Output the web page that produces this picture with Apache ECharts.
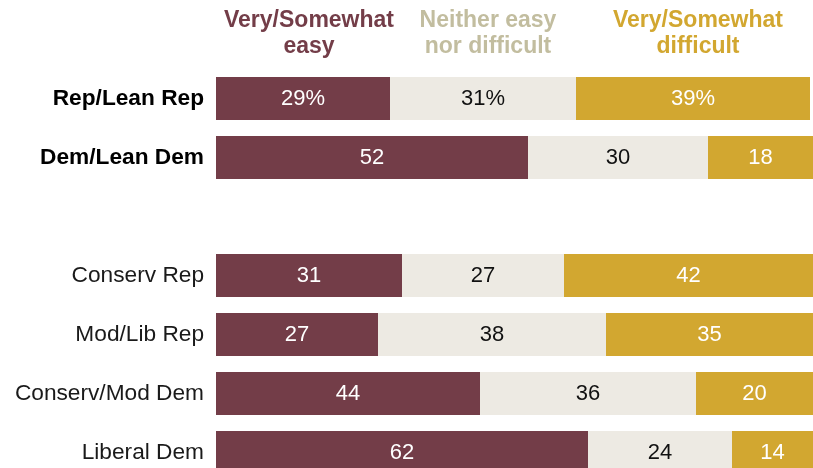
<!DOCTYPE html>
<html>
<head>
<meta charset="utf-8">
<style>
  html, body { margin: 0; padding: 0; background: #fff; }
  #chart { width: 813px; height: 468px; }
</style>
<script src="https://cdn.jsdelivr.net/npm/echarts@6/dist/echarts.min.js"></script>
</head>
<body>
<div id="chart"></div>
<script>
// Groups shown as rows (the empty string leaves a gap between party totals and ideology groups)
const categories = ['Rep/Lean Rep', 'Dem/Lean Dem', '', 'Conserv Rep', 'Mod/Lib Rep', 'Conserv/Mod Dem', 'Liberal Dem'];
const boldRows = ['Rep/Lean Rep', 'Dem/Lean Dem'];

// Share answering each way (%)
const easyValues      = [29, 52, null, 31, 27, 44, 62];
const neitherValues   = [31, 30, null, 27, 38, 36, 24];
const difficultValues = [39, 18, null, 42, 35, 20, 14];

// Column headers, one array entry per line
const headerLines = [
  ['Very/Somewhat', 'easy'],
  ['Neither easy', 'nor difficult'],
  ['Very/Somewhat', 'difficult']
];
const seriesNames = headerLines.map(l => l.join(' '));

const COLORS = {
  easy: '#733D48',
  neither: '#EDEAE3',
  difficult: '#D2A730',
  neitherText: '#C2BD9F'
};
const FONT = "'Liberation Sans', Arial, sans-serif";

function valueLabel(textColor) {
  return {
    show: true,
    position: 'inside',
    color: textColor,
    fontFamily: FONT,
    fontSize: 22,
    formatter: p => (p.value == null ? '' : (p.dataIndex === 0 ? p.value + '%' : String(p.value)))
  };
}

function makeSeries(name, data, color, textColor) {
  return {
    name: name,
    type: 'bar',
    stack: 'total',
    data: data,
    barWidth: 43,
    itemStyle: { color: color },
    label: valueLabel(textColor),
    emphasis: { disabled: true },
    silent: true
  };
}

// Header text blocks centred over each answer column
const headerCenters = [309, 488, 698];
const headerColors = [COLORS.easy, COLORS.neitherText, COLORS.difficult];
const headerGraphics = [];
headerLines.forEach((lines, i) => {
  lines.forEach((line, j) => {
    headerGraphics.push({
      type: 'text',
      x: headerCenters[i],
      y: 21 + j * 26,
      silent: true,
      style: {
        text: line,
        align: 'center',
        verticalAlign: 'middle',
        fill: headerColors[i],
        font: 'bold 23px ' + FONT
      }
    });
  });
});

const chart = echarts.init(document.getElementById('chart'), null, { renderer: 'canvas' });

chart.setOption({
  animation: false,
  backgroundColor: '#ffffff',
  grid: { left: 216, top: 69, width: 597, height: 413, outerBoundsMode: 'none' },
  xAxis: {
    type: 'value',
    min: 0,
    max: 99.5,
    show: false
  },
  yAxis: {
    type: 'category',
    inverse: true,
    data: categories,
    axisLine: { show: false },
    axisTick: { show: false },
    splitLine: { show: false },
    axisLabel: {
      margin: 12,
      fontFamily: FONT,
      formatter: v => (boldRows.includes(v) ? '{b|' + v + '}' : '{r|' + v + '}'),
      rich: {
        b: { fontFamily: FONT, fontSize: 22.7, fontWeight: 'bold', color: '#000' },
        r: { fontFamily: FONT, fontSize: 22.7, color: '#1a1a1a' }
      }
    }
  },
  graphic: headerGraphics,
  series: [
    makeSeries(seriesNames[0], easyValues, COLORS.easy, '#ffffff'),
    makeSeries(seriesNames[1], neitherValues, COLORS.neither, '#111111'),
    makeSeries(seriesNames[2], difficultValues, COLORS.difficult, '#ffffff')
  ]
});
</script>
</body>
</html>
